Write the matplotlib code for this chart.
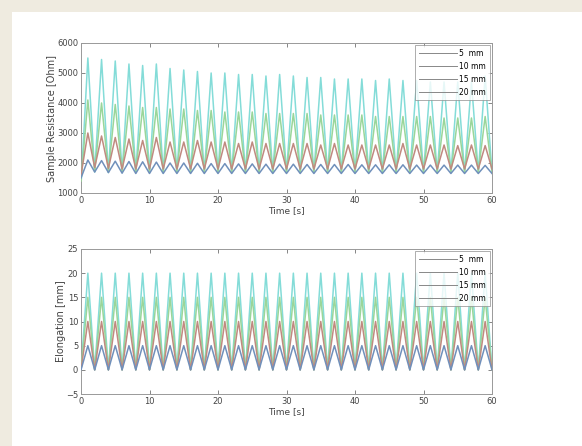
import matplotlib
matplotlib.use("Agg")
import matplotlib.pyplot as plt
from matplotlib.patches import Rectangle

# ---------------- data ----------------
# time of troughs (even seconds) and peaks (odd seconds)
trough_t = [0, 2, 4, 6, 8, 10, 12, 14, 16, 18, 20, 22, 24, 26, 28, 30,
            32, 34, 36, 38, 40, 42, 44, 46, 48, 50, 52, 54, 56, 58, 60]
peak_t = [1, 3, 5, 7, 9, 11, 13, 15, 17, 19, 21, 23, 25, 27, 29,
          31, 33, 35, 37, 39, 41, 43, 45, 47, 49, 51, 53, 55, 57, 59]

labels = ["5  mm", "10 mm", "15 mm", "20 mm"]

# Sample resistance [Ohm]
res_5_peak = [2100, 2080, 2060, 2050, 2040, 2030, 2000, 2000, 1990, 1980,
              1980, 1970, 1970, 1960, 1960, 1960, 1950, 1950, 1950, 1950,
              1940, 1940, 1940, 1940, 1930, 1930, 1930, 1930, 1930, 1920]
res_5_trough = [1500, 1700, 1680, 1660, 1650, 1650, 1650, 1650, 1650, 1650,
                1650, 1650, 1650, 1650, 1650, 1650, 1650, 1650, 1650, 1650,
                1650, 1650, 1650, 1650, 1650, 1650, 1650, 1650, 1650, 1650, 1650]
res_10_peak = [3000, 2900, 2850, 2800, 2750, 2850, 2700, 2700, 2750, 2700,
               2700, 2650, 2700, 2650, 2650, 2650, 2650, 2600, 2650, 2600,
               2600, 2600, 2600, 2650, 2600, 2600, 2600, 2580, 2600, 2580]
res_10_trough = [1600, 1850, 1820, 1800, 1800, 1800, 1800, 1800, 1800, 1800,
                 1800, 1800, 1800, 1800, 1800, 1800, 1800, 1800, 1800, 1800,
                 1800, 1800, 1800, 1800, 1800, 1800, 1800, 1800, 1800, 1800, 1800]
res_15_peak = [4100, 4000, 3950, 3900, 3850, 3850, 3800, 3800, 3750, 3750,
               3700, 3700, 3700, 3650, 3650, 3650, 3650, 3600, 3600, 3600,
               3600, 3550, 3550, 3550, 3550, 3550, 3500, 3500, 3500, 3550]
res_15_trough = [1400, 1720, 1700, 1700, 1700, 1700, 1700, 1700, 1700, 1700,
                 1700, 1700, 1700, 1700, 1700, 1700, 1700, 1700, 1700, 1700,
                 1700, 1700, 1700, 1700, 1700, 1700, 1700, 1700, 1700, 1700, 1700]
res_20_peak = [5500, 5450, 5400, 5300, 5250, 5300, 5150, 5100, 5050, 5000,
               5000, 4950, 4950, 4900, 4950, 4900, 4850, 4850, 4800, 4800,
               4800, 4750, 4800, 4750, 4750, 4700, 4700, 4700, 4700, 4900]
res_20_trough = [1250, 1700, 1680, 1680, 1680, 1680, 1680, 1680, 1680, 1680,
                 1680, 1680, 1680, 1680, 1680, 1680, 1680, 1680, 1680, 1680,
                 1680, 1680, 1680, 1680, 1680, 1680, 1680, 1680, 1680, 1680, 1680]

# Elongation [mm]
el_5_peak = [5] * 30
el_10_peak = [10] * 30
el_15_peak = [15] * 30
el_20_peak = [20] * 30
el_trough = [0] * 31

x_ticks = [0, 10, 20, 30, 40, 50, 60]
res_ticks = [1000, 2000, 3000, 4000, 5000, 6000]
el_ticks = [-5, 0, 5, 10, 15, 20, 25]

colors = ["#7090bb", "#c08a80", "#9ad69a", "#84dcd8"]


def zigzag(troughs, peaks):
    t, v = [], []
    for i in range(len(peaks)):
        t += [trough_t[i], peak_t[i]]
        v += [troughs[i], peaks[i]]
    t.append(trough_t[-1])
    v.append(troughs[-1])
    return t, v


# ---------------- figure ----------------
fig = plt.figure(figsize=(5.82, 4.46), dpi=100, facecolor="white")
beige = "#efebe0"
fig.patches.append(Rectangle((0, 0), 12 / 582, 1, transform=fig.transFigure,
                             facecolor=beige, edgecolor="none", zorder=-10))
fig.patches.append(Rectangle((0, 1 - 12 / 446), 1, 12 / 446,
                             transform=fig.transFigure, facecolor=beige,
                             edgecolor="none", zorder=-10))

ax1 = fig.add_axes([81 / 582, 1 - 193 / 446, 411 / 582, 150 / 446])
ax2 = fig.add_axes([81 / 582, 1 - 394 / 446, 411 / 582, 145 / 446])

res_series = [(res_5_trough, res_5_peak), (res_10_trough, res_10_peak),
              (res_15_trough, res_15_peak), (res_20_trough, res_20_peak)]
el_series = [(el_trough, el_5_peak), (el_trough, el_10_peak),
             (el_trough, el_15_peak), (el_trough, el_20_peak)]

for ax, series in [(ax1, res_series), (ax2, el_series)]:
    for (tr, pk), c, lab in zip(series, colors, labels):
        t, v = zigzag(tr, pk)
        ax.plot(t, v, color=c, lw=1.1, label=lab)
    order = [3, 2, 1, 0]
    lines = ax.get_lines()
    for z, i in enumerate(order):
        lines[i].set_zorder(2 + z)

for ax in (ax1, ax2):
    ax.set_xlim(0, 60)
    ax.set_xticks(x_ticks)
    ax.tick_params(direction="in", top=True, right=True, labelsize=6,
                   length=3, width=0.5, colors="#555555", labelcolor="#444444",
                   pad=2)
    for s in ax.spines.values():
        s.set_color("#999999")
        s.set_linewidth(0.7)
    ax.set_xlabel("Time [s]", fontsize=6.5, color="#444444", labelpad=1)
    leg = ax.legend(loc="upper right", fontsize=5.5, frameon=True, fancybox=False,
                    handlelength=5, borderpad=0.5, labelspacing=0.5,
                    handletextpad=0.3, borderaxespad=0.3)
    leg.get_frame().set_edgecolor("#888888")
    leg.get_frame().set_linewidth(0.6)
    for h in leg.get_lines():
        h.set_color("#888888")
        h.set_linewidth(0.7)

ax1.set_ylim(1000, 6000)
ax1.set_yticks(res_ticks)
ax1.set_ylabel("Sample Resistance [Ohm]", fontsize=7, color="#444444", labelpad=0)

ax2.set_ylim(-5, 25)
ax2.set_yticks(el_ticks)
ax2.set_ylabel("Elongation [mm]", fontsize=7, color="#444444", labelpad=0)

fig.savefig("out.png", dpi=100, facecolor=fig.get_facecolor())
